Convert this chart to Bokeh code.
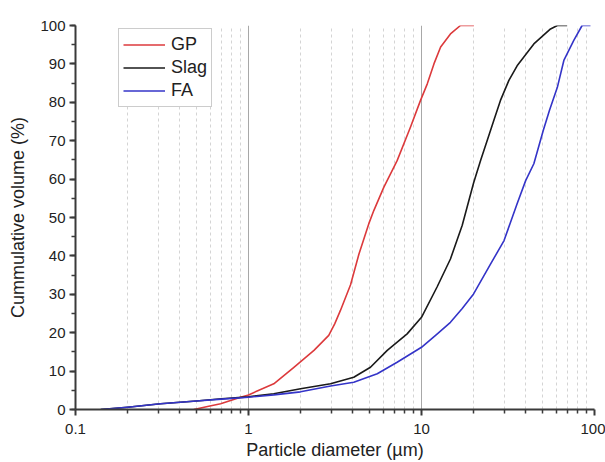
from bokeh.plotting import figure
from bokeh.models import (FixedTicker, SingleIntervalTicker, CustomJSTickFormatter,
                          Range1d, Legend, LegendItem)
from bokeh.embed import file_html
from bokeh.resources import INLINE

# Data
gp_x = [0.483, 0.58, 0.69, 0.90, 1.0, 1.4, 1.83, 2.39, 2.91, 3.15, 3.40, 3.89, 4.35, 4.96, 5.3,
        6.06, 7.23, 8.63, 9.87, 10.8, 11.8, 12.9, 14.7, 16.8, 20.1]
gp_y = [0.0, 0.8, 1.5, 3.2, 3.8, 6.7, 11.0, 15.4, 19.3, 22.3, 25.8, 32.5, 40.5, 48.4, 51.8,
        57.9, 64.8, 73.5, 80.5, 84.8, 90.0, 94.4, 97.8, 100.0, 100.0]

slag_x = [0.14, 0.2, 0.31, 0.5, 0.7, 1.0, 1.4, 2.0, 2.98, 4.06, 5.07, 6.34, 8.26, 10.0,
          12.3, 14.7, 17.2, 20.0, 22.0, 24.0, 26.2, 28.6, 32.0, 35.7, 44.6, 55.7, 61.0, 69.5]
slag_y = [0.0, 0.6, 1.5, 2.2, 2.8, 3.3, 4.1, 5.4, 6.7, 8.4, 11.0, 15.4, 19.7, 24.0,
          31.9, 39.2, 48.0, 59.0, 65.0, 70.1, 75.3, 80.5, 85.7, 89.5, 95.2, 99.1, 100.0, 100.0]

fa_x = [0.14, 0.2, 0.31, 0.5, 0.7, 1.0, 1.4, 2.0, 2.98, 4.06, 5.55, 7.23, 10.0, 12.2,
        14.7, 17.2, 20.0, 25.1, 30.0, 35.7, 40.0, 44.6, 50.6, 55.0, 61.0, 66.5, 75.9, 84.8, 94.8]
fa_y = [0.0, 0.6, 1.5, 2.2, 2.7, 3.2, 3.8, 4.6, 6.1, 7.1, 9.3, 12.3, 16.2, 19.5,
        22.7, 26.3, 30.1, 37.9, 44.0, 53.6, 59.6, 64.0, 72.7, 78.0, 83.9, 90.9, 96.1, 100.0, 100.0]

series_names = ["GP", "Slag", "FA"]
x_ticks = [0.1, 1, 10, 100]
x_minor = [m * d for d in [0.1, 1, 10] for m in range(2, 10)]

p = figure(width=605, height=462, x_axis_type="log", output_backend="svg",
           toolbar_location=None,
           x_range=Range1d(0.1, 100), y_range=Range1d(0, 100),
           min_border_left=75, min_border_right=11, min_border_top=25,
           min_border_bottom=53)
p.outline_line_color = None
p.background_fill_color = "white"
p.border_fill_color = "white"

# grids
p.ygrid.grid_line_color = None
p.xgrid.grid_line_color = "#a8a8a8"
p.xgrid.grid_line_width = 1
p.xgrid.minor_grid_line_color = "#d4d4d4"
p.xgrid.minor_grid_line_dash = "3 3"
p.xgrid.minor_grid_line_width = 1

colors = ["#dc3a3c", "#1a1a1a", "#3434c8"]
r1 = p.line(gp_x, gp_y, line_color=colors[0], line_width=1.6, line_join="round")
r2 = p.line(slag_x, slag_y, line_color=colors[1], line_width=1.6, line_join="round")
r3 = p.line(fa_x, fa_y, line_color=colors[2], line_width=1.6, line_join="round")

# axes
xa = p.xaxis[0]
xa.ticker = FixedTicker(ticks=x_ticks, minor_ticks=x_minor)
xa.formatter = CustomJSTickFormatter(code="return String(Math.round(tick*10)/10);")
ya = p.yaxis[0]
ya.ticker = SingleIntervalTicker(interval=10, num_minor_ticks=2)

for ax in (xa, ya):
    ax.axis_line_color = "#3a3a3a"
    ax.axis_line_width = 2
    ax.major_tick_line_color = "#3a3a3a"
    ax.major_tick_line_width = 2
    ax.minor_tick_line_color = "#3a3a3a"
    ax.minor_tick_line_width = 1.5
    ax.major_tick_out = 6
    ax.major_tick_in = 0
    ax.minor_tick_out = 4
    ax.minor_tick_in = 0
    ax.major_label_text_font = "Liberation Sans"
    ax.major_label_text_font_size = "15px"
    ax.major_label_text_color = "#222222"
    ax.axis_label_text_font = "Liberation Sans"
    ax.axis_label_text_font_size = "18px"
    ax.axis_label_text_font_style = "normal"
    ax.axis_label_text_color = "#222222"

xa.axis_label = "Particle diameter (\u00b5m)"
xa.axis_label_standoff = 3
xa.major_label_standoff = 8
ya.axis_label = "Cummulative volume (%)"
ya.axis_label_standoff = 9
ya.major_label_standoff = 4

legend = Legend(items=[LegendItem(label=series_names[0], renderers=[r1]),
                       LegendItem(label=series_names[1], renderers=[r2]),
                       LegendItem(label=series_names[2], renderers=[r3])],
                location=(43, 302))
legend.label_text_font = "Liberation Sans"
legend.label_text_font_size = "18px"
legend.label_text_color = "#222222"
legend.border_line_color = "#999999"
legend.border_line_width = 1
legend.background_fill_alpha = 1
legend.glyph_width = 42
legend.glyph_height = 23
legend.label_height = 23
legend.spacing = 0
legend.padding = 4
legend.margin = 0
legend.label_standoff = 6
p.add_layout(legend, "center")

open("out.html", "w").write(file_html(p, INLINE))
